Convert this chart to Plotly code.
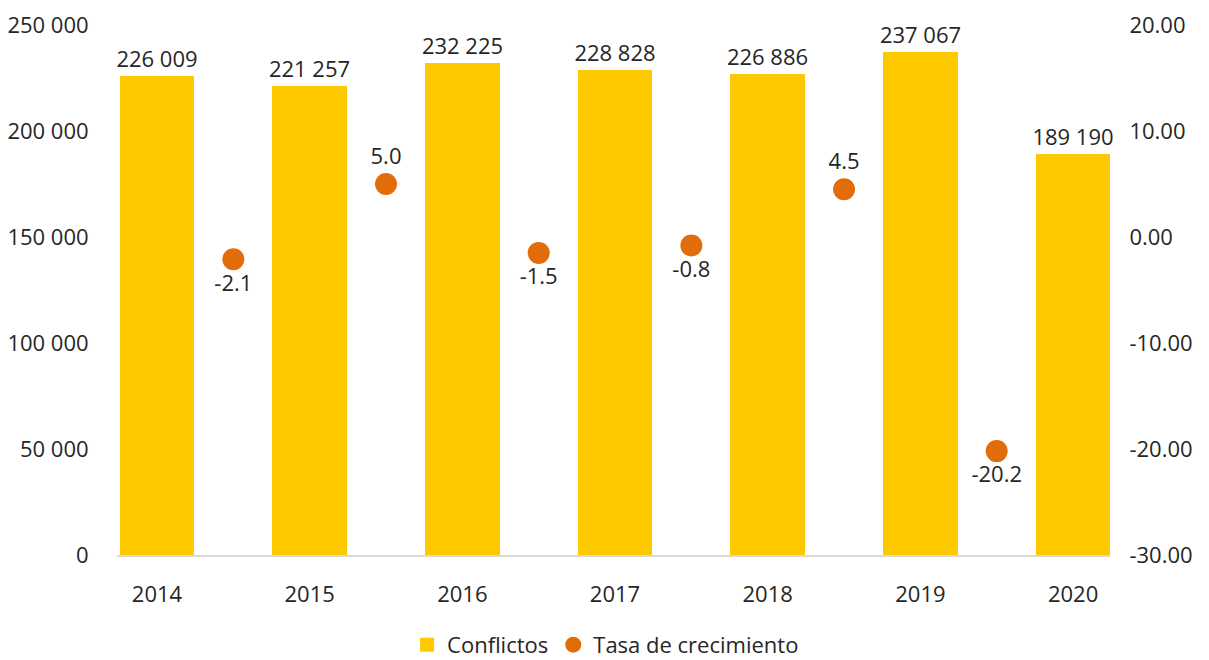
import plotly.graph_objects as go

# data
years = [2014, 2015, 2016, 2017, 2018, 2019, 2020]
conflictos = [226009, 221257, 232225, 228828, 226886, 237067, 189190]

growth_years = [2015, 2016, 2017, 2018, 2019, 2020]
tasa = [-2.1, 5.0, -1.5, -0.8, 4.5, -20.2]

left_ticks = [0, 50000, 100000, 150000, 200000, 250000]
left_ticktext = ["0", "50 000", "100 000", "150 000", "200 000", "250 000"]
right_ticks = [-30, -20, -10, 0, 10, 20]
right_ticktext = ["-30.00", "-20.00", "-10.00", "0.00", "10.00", "20.00"]

GOLD = "#FFC900"
ORANGE = "#E36C0A"
TXT = "#262626"
FONT = "Open Sans"
FS = 22

bar_text = [f"{v:,}".replace(",", " ") for v in conflictos]
dot_x = [y - 0.5 for y in growth_years]
dot_text = [f"{v:.1f}" for v in tasa]
dot_pos = ["top center" if v > 0 else "bottom center" for v in tasa]

fig = go.Figure()

fig.add_trace(go.Bar(
    x=years, y=conflictos, width=0.49,
    marker_color=GOLD, marker_line_width=0,
    text=bar_text, textposition="outside", cliponaxis=False,
    constraintext="none",
    textfont=dict(family=FONT, size=FS, color=TXT),
    showlegend=False, name="Conflictos"))

fig.add_trace(go.Scatter(
    x=dot_x, y=tasa, yaxis="y2", mode="markers+text",
    marker=dict(color=ORANGE, size=22),
    text=dot_text, textposition=dot_pos, cliponaxis=False,
    textfont=dict(family=FONT, size=FS, color=TXT),
    showlegend=False, name="Tasa de crecimiento"))

# legend-only entries
fig.add_trace(go.Scatter(x=[None], y=[None], mode="markers", name="Conflictos",
                         marker=dict(symbol="square", color=GOLD, size=14)))
fig.add_trace(go.Scatter(x=[None], y=[None], mode="markers", name="Tasa de crecimiento",
                         marker=dict(symbol="circle", color=ORANGE, size=22)))

# page body adds an 8px offset, margins compensate
fig.update_layout(
    width=1209, height=660,
    margin=dict(l=109, r=107, t=17, b=113, autoexpand=False),
    paper_bgcolor="white", plot_bgcolor="white",
    font=dict(family=FONT, size=FS, color=TXT),
    bargap=0,
    legend=dict(orientation="h", x=0.492, xanchor="center",
                yref="container", y=0.035, yanchor="middle",
                font=dict(family=FONT, size=FS, color=TXT), itemsizing="trace",
                itemwidth=30, tracegroupgap=0),
    xaxis=dict(range=[2014 - 0.262, 2020 + 0.242], tickvals=years,
               ticktext=[str(y) for y in years], showgrid=False, zeroline=False,
               showline=True, linecolor="#D9D9D9", linewidth=1.5, automargin=False,
               ticks="outside", ticklen=19, tickcolor="rgba(0,0,0,0)"),
    yaxis=dict(range=[0, 250000], tickvals=left_ticks, ticktext=left_ticktext,
               showgrid=False, zeroline=False, showline=False, automargin=False,
               ticklabeloverflow="allow",
               ticks="outside", ticklen=23, tickcolor="rgba(0,0,0,0)"),
    yaxis2=dict(range=[-30, 20], tickvals=right_ticks, ticktext=right_ticktext,
                overlaying="y", side="right", showgrid=False, zeroline=False,
                showline=False, automargin=False, ticklabeloverflow="allow",
                ticks="outside", ticklen=14, tickcolor="rgba(0,0,0,0)"),
)

fig.write_html("out.html")
